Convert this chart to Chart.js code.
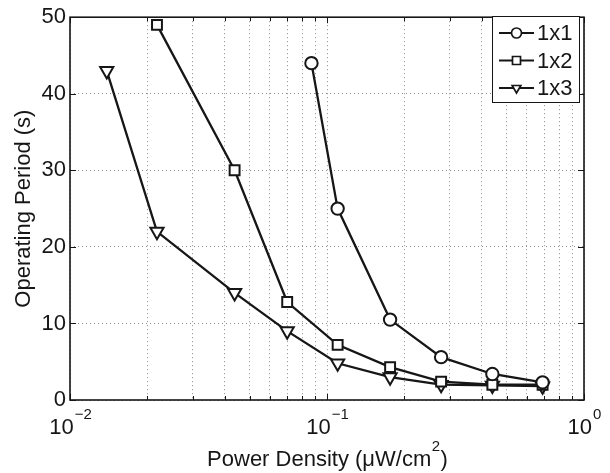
<!DOCTYPE html>
<html>
<head>
<meta charset="utf-8">
<script src="https://cdn.jsdelivr.net/npm/chart.js@4/dist/chart.umd.min.js"></script>
<style>
  body { margin: 0; background: #fff; }
  #wrap { width: 610px; height: 473px; }
</style>
</head>
<body>
<div id="wrap"><canvas id="chart" width="610" height="473"></canvas></div>
<script>
// data
const seriesNames = ['1x1', '1x2', '1x3'];
const power1x1 = [0.087, 0.11, 0.176, 0.278, 0.44, 0.69];
const period1x1 = [44, 25, 10.5, 5.6, 3.4, 2.3];
const power1x2 = [0.0218, 0.0437, 0.07, 0.11, 0.176, 0.278, 0.44, 0.69];
const period1x2 = [49, 30, 12.8, 7.2, 4.3, 2.4, 2.0, 2.0];
const power1x3 = [0.0139, 0.0218, 0.0437, 0.07, 0.11, 0.176, 0.278, 0.44, 0.69];
const period1x3 = [43, 22, 14, 9, 4.8, 3.0, 2.0, 1.9, 1.8];

// axis ticks
const xGridValues = [0.01, 0.02, 0.03, 0.04, 0.05, 0.06, 0.07, 0.08, 0.09,
  0.1, 0.2, 0.3, 0.4, 0.5, 0.6, 0.7, 0.8, 0.9, 1];
const xDecades = [0.01, 0.1, 1];
const xDecadeExp = ['\u22122', '\u22121', '0'];
const yTicks = [0, 10, 20, 30, 40, 50];

const FONT = '"Liberation Sans", Arial, Helvetica, sans-serif';
const INK = '#161616';

function pts(xs, ys) {
  return xs.map((x, i) => ({ x: x, y: ys[i] }));
}

const markers = [
  { style: 'circle', radius: 6.2, rotation: 0 },
  { style: 'rect', radius: 7, rotation: 0 },
  { style: 'triangle', radius: 7.6, rotation: 180 }
];
const allData = [pts(power1x1, period1x1), pts(power1x2, period1x2), pts(power1x3, period1x3)];

const datasets = allData.map((d, i) => ({
  label: seriesNames[i],
  data: d,
  borderColor: INK,
  borderWidth: 2.3,
  pointStyle: markers[i].style,
  pointRadius: markers[i].radius,
  pointRotation: markers[i].rotation,
  pointBackgroundColor: '#fff',
  pointBorderColor: INK,
  pointBorderWidth: 2,
  tension: 0,
  clip: false
}));

// draw a marker by hand for the legend
function marker(ctx, style, x, y, r) {
  ctx.beginPath();
  if (style === 'circle') {
    ctx.arc(x, y, r, 0, Math.PI * 2);
  } else if (style === 'rect') {
    ctx.rect(x - r, y - r, 2 * r, 2 * r);
  } else {
    ctx.moveTo(x - r * 0.87, y - r * 0.5);
    ctx.lineTo(x + r * 0.87, y - r * 0.5);
    ctx.lineTo(x, y + r);
    ctx.closePath();
  }
  ctx.fillStyle = '#fff';
  ctx.fill();
  ctx.stroke();
}

const matlabAxes = {
  id: 'matlabAxes',
  afterDraw(chart) {
    const ctx = chart.ctx;
    const a = chart.chartArea;
    const xs = chart.scales.x;
    const ys = chart.scales.y;
    ctx.save();

    // inward tick marks
    ctx.strokeStyle = INK;
    ctx.lineWidth = 1;
    ctx.beginPath();
    xGridValues.forEach(v => {
      const px = Math.round(xs.getPixelForValue(v)) + 0.5;
      const len = xDecades.includes(v) ? 6 : 4;
      ctx.moveTo(px, a.bottom); ctx.lineTo(px, a.bottom - len);
      ctx.moveTo(px, a.top); ctx.lineTo(px, a.top + len);
    });
    yTicks.forEach(v => {
      const py = Math.round(ys.getPixelForValue(v)) + 0.5;
      ctx.moveTo(a.left, py); ctx.lineTo(a.left + 6, py);
      ctx.moveTo(a.right, py); ctx.lineTo(a.right - 6, py);
    });
    ctx.stroke();

    // frame
    ctx.lineWidth = 1.6;
    ctx.strokeRect(a.left, a.top, a.right - a.left, a.bottom - a.top);

    // x tick labels 10^n
    ctx.fillStyle = INK;
    ctx.textBaseline = 'alphabetic';
    ctx.textAlign = 'left';
    xDecades.forEach((v, i) => {
      const px = xs.getPixelForValue(v);
      ctx.font = '22px ' + FONT;
      const wBase = ctx.measureText('10').width;
      ctx.font = '15px ' + FONT;
      const wExp = ctx.measureText(xDecadeExp[i]).width;
      const x0 = px - (wBase + wExp) / 2;
      ctx.font = '22px ' + FONT;
      ctx.fillText('10', x0, 434);
      ctx.font = '15px ' + FONT;
      ctx.fillText(xDecadeExp[i], x0 + wBase + 1, 419);
    });

    // x axis title with superscript
    const t1 = 'Power Density (\u03bcW/cm', t2 = '2', t3 = ')';
    ctx.font = '22px ' + FONT;
    const w1 = ctx.measureText(t1).width, w3 = ctx.measureText(t3).width;
    ctx.font = '15px ' + FONT;
    const w2 = ctx.measureText(t2).width;
    let tx = (a.left + a.right) / 2 - (w1 + w2 + w3) / 2;
    ctx.font = '22px ' + FONT;
    ctx.fillText(t1, tx, 466);
    ctx.font = '15px ' + FONT;
    ctx.fillText(t2, tx + w1 + 0.5, 451);
    ctx.font = '22px ' + FONT;
    ctx.fillText(t3, tx + w1 + w2 + 1, 466);

    // legend
    const lx = 492, ly = 16, lw = 87, lh = 86;
    ctx.fillStyle = '#fff';
    ctx.fillRect(lx, ly, lw, lh);
    ctx.lineWidth = 1;
    ctx.strokeStyle = INK;
    ctx.strokeRect(lx + 0.5, ly + 0.5, lw, lh);
    seriesNames.forEach((name, i) => {
      const cy = ly + 17 + i * 27.5;
      ctx.strokeStyle = INK;
      ctx.lineWidth = 2;
      ctx.beginPath();
      ctx.moveTo(lx + 7, cy); ctx.lineTo(lx + 42, cy);
      ctx.stroke();
      ctx.lineWidth = 1.7;
      const r = markers[i].style === 'rect' ? 4 : 5;
      marker(ctx, markers[i].style, lx + 24.5, cy, r);
      ctx.fillStyle = INK;
      ctx.font = '22px ' + FONT;
      ctx.textBaseline = 'middle';
      ctx.fillText(name, lx + 45, cy + 1);
    });
    ctx.restore();
  }
};

new Chart(document.getElementById('chart'), {
  type: 'line',
  data: { datasets: datasets },
  options: {
    responsive: false,
    animation: false,
    layout: { padding: { top: 11, right: 26, left: 0, bottom: 0 } },
    plugins: {
      legend: { display: false },
      tooltip: { enabled: false }
    },
    scales: {
      x: {
        type: 'logarithmic',
        min: 0.01,
        max: 1,
        afterBuildTicks: scale => {
          scale.ticks = xGridValues.map(v => ({ value: v, major: xDecades.includes(v) }));
        },
        afterFit: scale => { scale.height = 73; },
        ticks: { display: false, autoSkip: false },
        grid: { color: '#8f8f8f', lineWidth: 1, drawTicks: false },
        border: { display: false, dash: [1, 3] },
        title: { display: false }
      },
      y: {
        min: 0,
        max: 50,
        afterBuildTicks: scale => {
          scale.ticks = yTicks.map(v => ({ value: v }));
        },
        afterFit: scale => { scale.width = 70; },
        ticks: {
          color: INK,
          padding: 4,
          font: { family: FONT, size: 22 }
        },
        grid: { color: '#8f8f8f', lineWidth: 1, drawTicks: false },
        border: { display: false, dash: [1, 3] },
        title: {
          display: true,
          text: 'Operating Period (s)',
          color: INK,
          font: { family: FONT, size: 22 },
          padding: { top: 11, bottom: 0 }
        }
      }
    }
  },
  plugins: [matlabAxes]
});
</script>
</body>
</html>
